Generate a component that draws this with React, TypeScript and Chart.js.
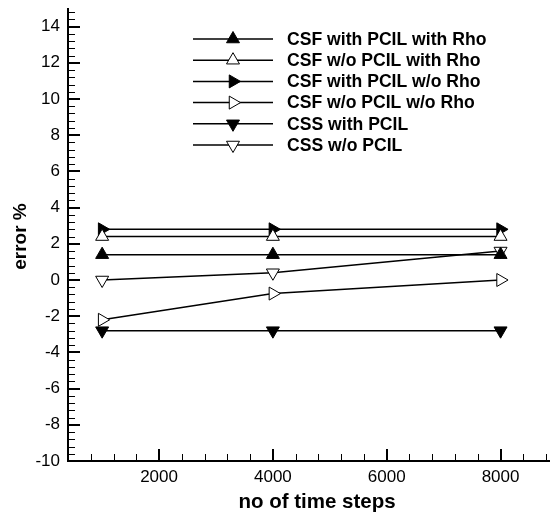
import React, { useEffect, useRef } from 'react';
import { Chart, registerables } from 'chart.js';

Chart.register(...registerables);

const TIME_STEPS = [1000, 4000, 8000];
const SERIES_NAMES = [
  'CSF with PCIL with Rho',
  'CSF w/o PCIL with Rho',
  'CSF with PCIL w/o Rho',
  'CSF w/o PCIL w/o Rho',
  'CSS with PCIL',
  'CSS w/o PCIL',
];
const CSF_PCIL_RHO = [1.4, 1.4, 1.4];
const CSF_NOPCIL_RHO = [2.4, 2.4, 2.4];
const CSF_PCIL_NORHO = [2.8, 2.8, 2.8];
const CSF_NOPCIL_NORHO = [-2.2, -0.75, 0.0];
const CSS_PCIL = [-2.8, -2.8, -2.8];
const CSS_NOPCIL = [0.0, 0.4, 1.6];
const X_TICKS = [2000, 4000, 6000, 8000];
const Y_TICKS = [-10, -8, -6, -4, -2, 0, 2, 4, 6, 8, 10, 12, 14];
const X_TITLE = 'no of time steps';
const Y_TITLE = 'error %';
const X_MIN = 400;
const X_MAX = 8860;
const Y_MIN = -10;
const Y_MAX = 15;
const X_MINOR = 400;
const Y_MINOR = 0.4;

const SERIES_VALUES = [CSF_PCIL_RHO, CSF_NOPCIL_RHO, CSF_PCIL_NORHO, CSF_NOPCIL_NORHO, CSS_PCIL, CSS_NOPCIL];
const MARKERS = [
  { rotation: 0, filled: true },
  { rotation: 0, filled: false },
  { rotation: 90, filled: true },
  { rotation: 90, filled: false },
  { rotation: 180, filled: true },
  { rotation: 180, filled: false },
];

const FONT = '"Liberation Sans", Arial, Helvetica, sans-serif';
const RADIUS = 7.5;

function drawTri(ctx: CanvasRenderingContext2D, x: number, y: number, r: number, rotDeg: number, filled: boolean) {
  let rad = (rotDeg * Math.PI) / 180;
  ctx.beginPath();
  for (let i = 0; i < 3; i++) {
    const px = x + Math.sin(rad) * r;
    const py = y - Math.cos(rad) * r;
    if (i === 0) ctx.moveTo(px, py);
    else ctx.lineTo(px, py);
    rad += (2 * Math.PI) / 3;
  }
  ctx.closePath();
  ctx.fillStyle = filled ? '#000' : '#fff';
  ctx.fill();
  ctx.lineWidth = 1;
  ctx.strokeStyle = '#000';
  ctx.stroke();
}

const ticksPlugin = {
  id: 'inwardTicks',
  afterDraw(chart: any) {
    const { ctx, chartArea, scales } = chart;
    const x = scales.x;
    const y = scales.y;
    ctx.save();
    ctx.strokeStyle = '#000';
    for (let k = Math.ceil(X_MIN / X_MINOR); k * X_MINOR <= X_MAX; k++) {
      const v = k * X_MINOR;
      const px = Math.round(x.getPixelForValue(v));
      const major = X_TICKS.includes(v);
      ctx.lineWidth = major ? 2 : 1;
      const off = major ? 0 : 0.5;
      ctx.beginPath();
      ctx.moveTo(px + off, chartArea.bottom);
      ctx.lineTo(px + off, chartArea.bottom - (major ? 12 : 7));
      ctx.stroke();
    }
    for (let k = Math.ceil(Y_MIN / Y_MINOR); k * Y_MINOR <= Y_MAX + 1e-9; k++) {
      const v = k * Y_MINOR;
      const py = Math.round(y.getPixelForValue(v));
      const major = k % 5 === 0;
      ctx.lineWidth = major ? 2 : 1;
      const off = major ? 0 : 0.5;
      ctx.beginPath();
      ctx.moveTo(chartArea.left, py + off);
      ctx.lineTo(chartArea.left + (major ? 12 : 7), py + off);
      ctx.stroke();
    }
    // axis titles
    ctx.fillStyle = '#000';
    ctx.font = `bold 20.5px ${FONT}`;
    ctx.textAlign = 'center';
    ctx.textBaseline = 'alphabetic';
    ctx.fillText(X_TITLE, 317, 508);
    ctx.save();
    ctx.translate(26, 236.5);
    ctx.rotate(-Math.PI / 2);
    ctx.font = `bold 19px ${FONT}`;
    ctx.fillText(Y_TITLE, 0, 0);
    ctx.restore();
    // legend
    const lx0 = 193;
    const lx1 = 273;
    const ly0 = 39;
    const dy = 21.2;
    ctx.font = `bold 17.6px ${FONT}`;
    ctx.textBaseline = 'middle';
    ctx.textAlign = 'left';
    SERIES_NAMES.forEach((name, i) => {
      const ly = ly0 + i * dy;
      ctx.strokeStyle = '#000';
      ctx.lineWidth = 1.5;
      ctx.beginPath();
      ctx.moveTo(lx0, ly);
      ctx.lineTo(lx1, ly);
      ctx.stroke();
      drawTri(ctx, (lx0 + lx1) / 2, ly, RADIUS, MARKERS[i].rotation, MARKERS[i].filled);
      ctx.fillStyle = '#000';
      ctx.fillText(name, 287, ly + 1);
    });
    ctx.restore();
  },
};

export default function App() {
  const ref = useRef<HTMLCanvasElement | null>(null);
  useEffect(() => {
    if (!ref.current) return;
    Chart.defaults.font.family = FONT;
    Chart.defaults.color = '#000';
    const datasets = SERIES_VALUES.map((vals, i) => ({
      label: SERIES_NAMES[i],
      data: TIME_STEPS.map((t, j) => ({ x: t, y: vals[j] })),
      borderColor: '#000',
      borderWidth: 1.5,
      pointStyle: 'triangle',
      pointRotation: MARKERS[i].rotation,
      pointRadius: RADIUS,
      pointBorderWidth: 1,
      pointBorderColor: '#000',
      pointBackgroundColor: MARKERS[i].filled ? '#000' : '#fff',
      tension: 0,
      fill: false,
    }));
    const chart = new Chart(ref.current, {
      type: 'line',
      data: { datasets },
      plugins: [ticksPlugin],
      options: {
        animation: false,
        responsive: false,
        maintainAspectRatio: false,
        events: [],
        layout: { padding: { top: 7, left: 0, right: 0, bottom: 0 } },
        plugins: { legend: { display: false }, tooltip: { enabled: false }, title: { display: false } },
        scales: {
          x: {
            type: 'linear',
            min: X_MIN,
            max: X_MAX,
            grid: { display: true, drawOnChartArea: false, drawTicks: false },
            border: { display: true, color: '#000', width: 2 },
            afterBuildTicks: (s: any) => {
              s.ticks = X_TICKS.map((value) => ({ value }));
            },
            afterFit: (s: any) => {
              s.height = 55;
              s.paddingLeft = 0;
              s.paddingRight = 0;
            },
            ticks: {
              callback: (v: any) => String(v),
              font: { size: 17 },
              padding: 6,
              maxRotation: 0,
              autoSkip: false,
            },
            title: { display: false },
          },
          y: {
            type: 'linear',
            min: Y_MIN,
            max: Y_MAX,
            grid: { display: true, drawOnChartArea: false, drawTicks: false },
            border: { display: true, color: '#000', width: 2 },
            afterBuildTicks: (s: any) => {
              s.ticks = Y_TICKS.map((value) => ({ value }));
            },
            afterFit: (s: any) => {
              s.width = 68;
              s.paddingTop = 0;
              s.paddingBottom = 0;
            },
            ticks: {
              callback: (v: any) => String(v),
              font: { size: 17 },
              padding: 8,
              autoSkip: false,
            },
            title: { display: false },
          },
        },
      } as any,
    });
    return () => chart.destroy();
  }, []);
  return (
    <div style={{ position: 'fixed', left: 0, top: 0, width: 558, height: 516, background: '#fff' }}>
      <canvas ref={ref} width={558} height={516} style={{ width: 558, height: 516, display: 'block' }} />
    </div>
  );
}
